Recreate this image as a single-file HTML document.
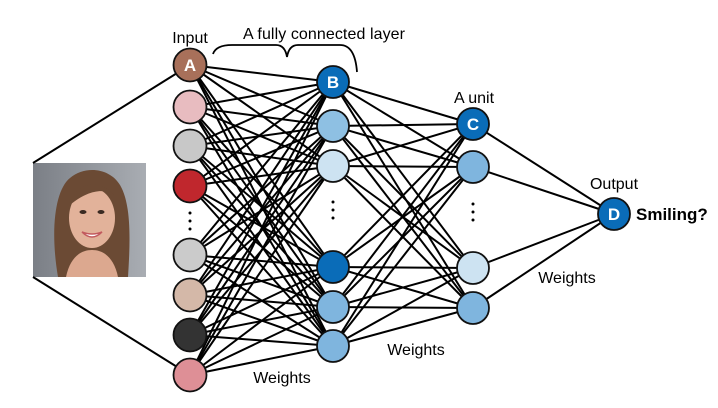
<!DOCTYPE html>
<html><head><meta charset="utf-8"><style>
html,body{margin:0;padding:0;background:#fff;}
svg{display:block;font-family:"Liberation Sans",sans-serif;}
</style></head><body>
<svg id="nn" width="718" height="408" viewBox="0 0 718 408" xmlns="http://www.w3.org/2000/svg">
<defs>
<linearGradient id="bg" x1="0" y1="0" x2="1" y2="0"><stop offset="0" stop-color="#7b7f86"/><stop offset="1" stop-color="#a9adb3"/></linearGradient>
</defs>
<g id="edges"></g>
<g>
<rect x="33" y="163" width="113" height="114" fill="url(#bg)"/>
<path d="M58 277 C50 230 55 190 70 178 C85 165 110 168 120 185 C132 205 130 245 128 277 Z" fill="#6b4a34"/>
<ellipse cx="92" cy="218" rx="23" ry="30" fill="#e2b29a"/>
<path d="M66 277 C70 258 80 250 92 250 C104 250 114 258 118 277 Z" fill="#dca88f"/>
<path d="M70 205 C75 182 100 178 114 195 C104 188 88 190 70 205 Z" fill="#6b4a34"/>
<ellipse cx="83" cy="212" rx="3.5" ry="2" fill="#3a2a22"/><ellipse cx="101" cy="212" rx="3.5" ry="2" fill="#3a2a22"/>
<path d="M82 232 Q92 242 102 232 Q92 236 82 232 Z" fill="#fff" stroke="#c25a5e" stroke-width="1.5"/>
</g>
<line x1="33" y1="163" x2="190" y2="65" stroke="#000" stroke-width="2"/>
<line x1="33" y1="277" x2="190" y2="375" stroke="#000" stroke-width="2"/>
<g id="nodes"></g>
<g fill="#000">
<circle cx="190" cy="213" r="1.5"/><circle cx="190" cy="221" r="1.5"/><circle cx="190" cy="229" r="1.5"/>
<circle cx="333" cy="202" r="1.5"/><circle cx="333" cy="210" r="1.5"/><circle cx="333" cy="218" r="1.5"/>
<circle cx="473" cy="204" r="1.5"/><circle cx="473" cy="212" r="1.5"/><circle cx="473" cy="220" r="1.5"/>
</g>
<path d="M213 54 Q216 45 232 45 L276 45 Q285 45 287 57 Q289 45 298 45 L340 45 Q355 45 357 72" fill="none" stroke="#000" stroke-width="1.8"/>
<text x="190" y="43" font-size="16" text-anchor="middle">Input</text>
<text x="324" y="39" font-size="16" text-anchor="middle" textLength="162">A fully connected layer</text>
<text x="474" y="103" font-size="16" text-anchor="middle">A unit</text>
<text x="614" y="189" font-size="16" text-anchor="middle">Output</text>
<text x="636" y="220" font-size="17" font-weight="bold">Smiling?</text>
<text x="282" y="383" font-size="16" text-anchor="middle">Weights</text>
<text x="416" y="355" font-size="16" text-anchor="middle">Weights</text>
<text x="567" y="283" font-size="16" text-anchor="middle">Weights</text>
</svg>
<script>
const inputY=[65,107,146,186,255,295,335,375];
const inputColors=["#a8705a","#e8bcc0","#c8c8c8","#c0272d","#cbcbcb","#d4b8a8","#333333","#de8f96"];
const hidden1Y=[82,126,166,267,307,346];
const hidden1Colors=["#0a6cb8","#8ec0e3","#cde3f2","#0a6cb8","#7fb5de","#7fb5de"];
const hidden2Y=[124,167,268,308];
const hidden2Colors=["#0a6cb8","#7fb5de","#cde3f2","#7fb5de"];
const outputY=[214];
const outputColors=["#0a6cb8"];
const layerX=[190,333,473,614];
const labels={"0-0":"A","1-0":"B","2-0":"C","3-0":"D"};
const NS="http://www.w3.org/2000/svg";
const layers=[inputY,hidden1Y,hidden2Y,outputY];
const colors=[inputColors,hidden1Colors,hidden2Colors,outputColors];
const eg=document.getElementById('edges'),ng=document.getElementById('nodes');
for(let l=0;l<3;l++){for(const a of layers[l])for(const b of layers[l+1]){
 const ln=document.createElementNS(NS,'line');
 ln.setAttribute('x1',layerX[l]);ln.setAttribute('y1',a);ln.setAttribute('x2',layerX[l+1]);ln.setAttribute('y2',b);
 ln.setAttribute('stroke','#000');ln.setAttribute('stroke-width','2');
 
 
 eg.appendChild(ln);}}
layers.forEach((ys,l)=>ys.forEach((y,i)=>{
 const c=document.createElementNS(NS,'circle');
 c.setAttribute('cx',layerX[l]);c.setAttribute('cy',y);c.setAttribute('r',l==0?16.5:16);
 c.setAttribute('fill',colors[l][i]);c.setAttribute('stroke','#111');c.setAttribute('stroke-width','1.8');
 
 
 ng.appendChild(c);
 const k=l+'-'+i;
 if(labels[k]){const t=document.createElementNS(NS,'text');
  t.setAttribute('x',layerX[l]);t.setAttribute('y',y+6);t.setAttribute('text-anchor','middle');
  t.setAttribute('font-size','17');t.setAttribute('font-weight','bold');t.setAttribute('fill','#fff');t.textContent=labels[k];
  
  
  ng.appendChild(t);}
}));
</script>
</body></html>
